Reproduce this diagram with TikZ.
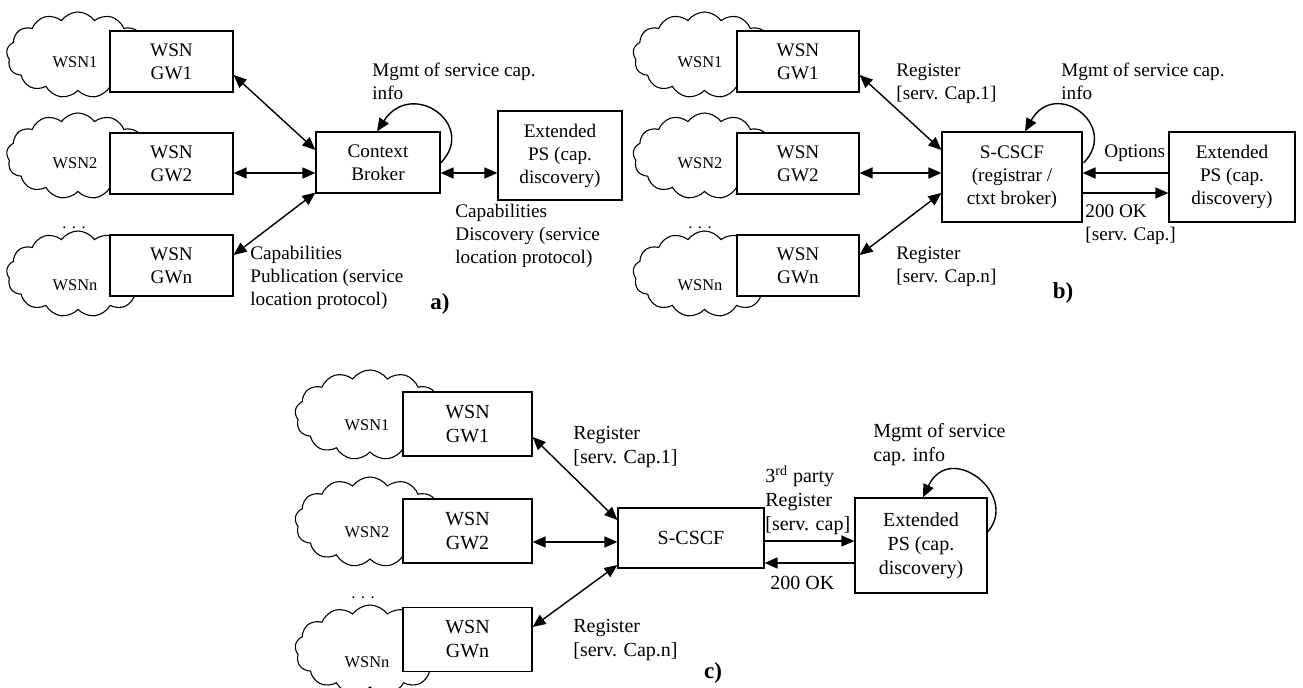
\documentclass[tikz,border=0pt]{standalone}
\usepackage{fontspec}
\setmainfont{Liberation Serif}
\usetikzlibrary{arrows.meta,shapes.symbols,calc}
\begin{document}
\begin{tikzpicture}[x=0.5pt,y=-0.5pt,
  txt/.style={font=\fontsize{9.6}{11.5}\selectfont},
  txtc/.style={font=\fontsize{10}{12}\selectfont},
  box/.style={draw,fill=white,line width=0.6pt,align=center,inner sep=0pt},
  wsn/.style={draw,cloud,cloud puffs=13,cloud puff arc=110,cloud ignores aspect,
    line width=0.55pt,inner sep=0pt,minimum width=71.5pt,minimum height=43pt},
  wsnc/.style={wsn,minimum width=75pt,minimum height=45pt},
  wsnlbl/.style={font=\fontsize{8.2}{9.8}\selectfont,inner sep=0pt},
  % anchored at the baseline of the last line of the text
  lbl/.style={align=left,inner sep=0pt,anchor=base west},
  link/.style={line width=0.7pt,{Triangle[length=6.5pt,width=5.5pt]}-{Triangle[length=6.5pt,width=5.5pt]}},
  flow/.style={line width=0.7pt,-{Triangle[length=6.5pt,width=5.5pt]}},
  tag/.style={font=\fontsize{11.5}{14}\selectfont\bfseries,inner sep=0pt}]
\useasboundingbox (0,0) rectangle (1303,688);

% ---------------- a) context broker ----------------
\node[wsn] (ca1) at (78,55) {};
\node[wsn] (ca2) at (78,156) {};
\node[wsn] (can) at (78,274) {};
\node[wsnlbl] (la1) at (75,62) {WSN1};
\node[wsnlbl] (la2) at (75,163) {WSN2};
\node[wsnlbl] (lan) at (75,285) {WSNn};
\node[wsnlbl,anchor=base] (da) at (74,229) {.\,\,.\,\,.};
\begin{scope}[txt]
\node[box,minimum width=61.5pt,minimum height=30.5pt] (ga1) at (171.5,61.5) {WSN\\GW1};
\node[box,minimum width=61.5pt,minimum height=30.5pt] (ga2) at (171.5,163.5) {WSN\\GW2};
\node[box,minimum width=61.5pt,minimum height=30.5pt] (gan) at (171.5,265.5) {WSN\\GWn};
\node[box,minimum width=62pt,minimum height=30.5pt] (cb) at (378,162.5) {Context\\Broker};
\node[box,minimum width=62pt,minimum height=44.5pt] (psa) at (560,155.5) {Extended\\PS (cap.\\discovery)};

\draw[link] ($(ga1.east)+(0,13.5)$) -- ($(cb.west)+(0,-12.5)$);
\draw[link] ($(ga2.east)+(0,9.5)$) -- ($(cb.west)+(0,10.5)$);
\draw[link] ($(gan.east)+(0,-10.5)$) -- ($(cb.south west)+(0,-1)$);
\draw[link] ($(cb.east)+(0,10.5)$) -- ($(psa.west)+(0,17.5)$);
\draw[flow] ($(cb.east)+(0,0.5)$) .. controls (478,125) and (412,78) .. ($(cb.north)+(-1,0)$);

\node[lbl] (ma) at (372,100) {Mgmt of service cap.\\info};
\node[lbl] (pub) at (250,306) {Capabilities\\Publication (service\\location protocol)};
\node[lbl] (dis) at (455,264) {Capabilities\\Discovery (service\\location protocol)};
\end{scope}
\node[tag] (ta) at (440,304) {a)};

% ---------------- b) S-CSCF as registrar ----------------
\node[wsn] (cb1) at (704.5,55) {};
\node[wsn] (cb2) at (704.5,156) {};
\node[wsn] (cbn) at (704.5,274) {};
\node[wsnlbl] (lb1) at (700,62) {WSN1};
\node[wsnlbl] (lb2) at (700,163) {WSN2};
\node[wsnlbl] (lbn) at (700,285) {WSNn};
\node[wsnlbl,anchor=base] (db) at (700,229) {.\,\,.\,\,.};
\begin{scope}[txt]
\node[box,minimum width=61pt,minimum height=30.5pt] (gb1) at (798,61.5) {WSN\\GW1};
\node[box,minimum width=61pt,minimum height=30.5pt] (gb2) at (798,163.5) {WSN\\GW2};
\node[box,minimum width=61pt,minimum height=30.5pt] (gbn) at (798,265.5) {WSN\\GWn};
\node[box,minimum width=70pt,minimum height=45pt] (scb) at (1012,177) {S-CSCF\\(registrar /\\ctxt broker)};
\node[box,minimum width=63pt,minimum height=45pt] (psb) at (1232,177) {Extended\\PS (cap.\\discovery)};

\draw[link] ($(gb1.east)+(0,13.5)$) -- ($(scb.west)+(0,-27)$);
\draw[link] ($(gb2.east)+(0,9.5)$) -- ($(scb.west)+(0,-4)$);
\draw[link] ($(gbn.east)+(0,-10.5)$) -- ($(scb.west)+(0,16)$);
\draw[flow] ($(psb.west)+(0,-4)$) -- ($(scb.east)+(0,-4)$);
\draw[flow] ($(scb.east)+(0,16)$) -- ($(psb.west)+(0,16)$);
\draw[flow] ($(scb.east)+(1,-14)$) .. controls (1120,125) and (1055,78) .. ($(scb.north)+(13,0)$);

\node[lbl] (rb1) at (896,100) {Register\\{[}serv. Cap.1{]}};
\node[lbl] (rbn) at (896,283) {Register\\{[}serv. Cap.n{]}};
\node[lbl] (mb) at (1061,100) {Mgmt of service cap.\\info};
\node[lbl] (opt) at (1104,158) {Options};
\node[lbl] (okb) at (1085,241) {200 OK\\{[}serv. Cap.{]}};
\end{scope}
\node[tag] (tb) at (1063,293) {b)};

% ---------------- c) third-party registration ----------------
\node[wsnc] (cc1) at (370,415) {};
\node[wsnc] (cc2) at (370,522) {};
\node[wsnc] (ccn) at (370,650) {};
\node[wsnlbl] (lc1) at (367,425) {WSN1};
\node[wsnlbl] (lc2) at (367,532) {WSN2};
\node[wsnlbl] (lcn) at (367,662) {WSNn};
\node[wsnlbl,anchor=base] (dc) at (363,599) {.\,\,.\,\,.};
\begin{scope}[txtc]
\node[box,minimum width=64.5pt,minimum height=32pt] (gc1) at (467.5,424) {WSN\\GW1};
\node[box,minimum width=64.5pt,minimum height=32pt] (gc2) at (467.5,531) {WSN\\GW2};
\node[box,minimum width=64.5pt,minimum height=32pt] (gcn) at (467.5,639.5) {WSN\\GWn};
\node[box,minimum width=73pt,minimum height=30pt] (scc) at (691,538) {S-CSCF};
\node[box,minimum width=66pt,minimum height=47.5pt] (psc) at (921,545.5) {Extended\\PS (cap.\\discovery)};

\draw[link] ($(gc1.east)+(0,13)$) -- ($(scc.west)+(0,-18)$);
\draw[link] ($(gc2.east)+(0,11)$) -- ($(scc.west)+(0,4)$);
\draw[link] ($(gcn.east)+(0,-12.5)$) -- ($(scc.west)+(0,27)$);
\draw[flow] ($(scc.east)+(0,3)$) -- ($(psc.west)+(0,-4.5)$);
\draw[flow] ($(psc.west)+(0,17.5)$) -- ($(scc.east)+(0,25)$);
\draw[flow] ($(psc.east)+(0,-13.5)$) .. controls (1020,495) and (950,440) .. ($(psc.north)+(2,0)$);

\node[lbl] (rc1) at (573,464) {Register\\{[}serv. Cap.1{]}};
\node[lbl] (rcn) at (573,657) {Register\\{[}serv. Cap.n{]}};
\node[lbl] (third) at (765,531) {3\textsuperscript{rd} party\\Register\\{[}serv. cap{]}};
\node[lbl] (okc) at (770,590) {200 OK};
\node[lbl] (mc) at (873,462) {Mgmt of service\\cap. info};
\end{scope}
\node[tag] (tc) at (713,673) {c)};
\end{tikzpicture}
\end{document}
